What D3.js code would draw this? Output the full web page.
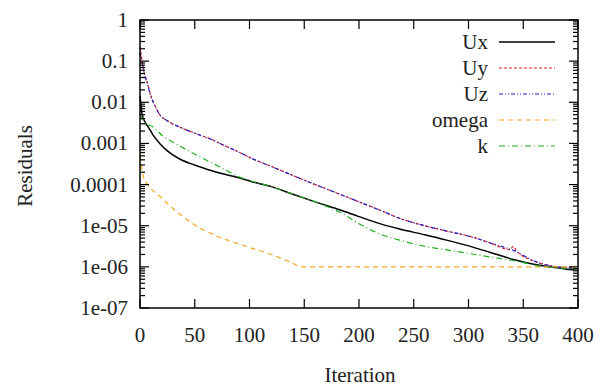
<!DOCTYPE html>
<html>
<head>
<meta charset="utf-8">
<script src="https://cdn.jsdelivr.net/npm/d3@7"></script>
<style>
  body { margin: 0; background: #fff; }
  text { font-family: "Liberation Serif", "DejaVu Serif", serif; fill: #222; }
</style>
</head>
<body>
<svg id="viz"></svg>
<script>
const svg = d3.select("#viz");

const W = 603, H = 388;
const plotL = 140, plotR = 578, plotT = 20, plotB = 308;

// data: iteration, log10 residual
const uxIter = [0, 2, 5, 8, 12, 18, 25, 35, 45, 56, 70, 91, 102, 120, 137, 160, 183, 200, 219, 237, 260, 280, 304, 320, 341, 362, 383, 395, 398, 400];
const uxLog  = [-1.85, -2.3, -2.5, -2.62, -2.8, -3.0, -3.18, -3.36, -3.48, -3.58, -3.7, -3.84, -3.93, -4.05, -4.21, -4.42, -4.62, -4.78, -4.95, -5.08, -5.22, -5.35, -5.52, -5.65, -5.82, -5.95, -6.03, -6.07, -6.04, -6.08];

const uyIter = [0, 2, 4, 6, 10, 14, 18, 25, 36, 45, 55, 65, 73, 91, 105, 120, 137, 160, 183, 200, 219, 237, 260, 280, 304, 320, 338, 341, 344, 362, 381, 390, 400];
const uyLog  = [-0.65, -1.0, -1.3, -1.46, -1.85, -2.1, -2.3, -2.45, -2.6, -2.7, -2.8, -2.9, -3.0, -3.22, -3.4, -3.56, -3.75, -4.0, -4.24, -4.42, -4.62, -4.82, -5.0, -5.13, -5.28, -5.42, -5.58, -5.5, -5.62, -5.88, -6.0, -6.02, -6.05];

const uzIter = [0, 2, 4, 6, 10, 14, 18, 25, 36, 45, 55, 65, 73, 91, 105, 120, 137, 160, 183, 200, 219, 237, 260, 280, 304, 320, 341, 362, 381, 390, 400];
const uzLog  = [-0.8, -1.05, -1.32, -1.48, -1.86, -2.1, -2.3, -2.45, -2.6, -2.7, -2.8, -2.9, -3.0, -3.22, -3.4, -3.56, -3.75, -4.0, -4.24, -4.42, -4.62, -4.82, -5.0, -5.13, -5.28, -5.42, -5.6, -5.88, -6.0, -6.02, -6.05];

const omIter = [0, 3, 7, 18, 30, 50, 70, 91, 100, 120, 137, 148, 200, 250, 300, 350, 400];
const omLog  = [-3.3, -3.8, -4.0, -4.28, -4.58, -4.98, -5.25, -5.45, -5.53, -5.7, -5.88, -6.0, -6.0, -6.0, -6.0, -6.0, -6.0];

const kIter = [0, 5, 12, 20, 35, 55, 75, 91, 102, 120, 137, 160, 175, 183, 200, 219, 237, 260, 283, 320, 347, 365, 385, 400];
const kLog  = [-2.3, -2.5, -2.6, -2.8, -3.04, -3.33, -3.6, -3.82, -3.92, -4.05, -4.21, -4.42, -4.58, -4.68, -4.95, -5.2, -5.35, -5.5, -5.6, -5.76, -5.88, -5.98, -6.03, -6.06];

const xTicks = [0, 50, 100, 150, 200, 250, 300, 350, 400];
const yTicks = [1, 0.1, 0.01, 0.001, 0.0001, 1e-5, 1e-6, 1e-7];
const yLabels = ["1", "0.1", "0.01", "0.001", "0.0001", "1e-05", "1e-06", "1e-07"];

const series = [
  { name: "Ux", iter: uxIter, vals: uxLog, color: "#000", dash: null, width: 1.5 },
  { name: "Uy", iter: uyIter, vals: uyLog, color: "#e02020", dash: "3,2", width: 1.2 },
  { name: "Uz", iter: uzIter, vals: uzLog, color: "#2020c8", dash: "4,2,1,2,1,2", width: 1.2 },
  { name: "omega", iter: omIter, vals: omLog, color: "#f5a623", dash: "5,4", width: 1.2 },
  { name: "k", iter: kIter, vals: kLog, color: "#22b022", dash: "6,3,1,3", width: 1.2 }
];

svg.attr("width", W).attr("height", H);

const x = d3.scaleLinear().domain([0, 400]).range([plotL, plotR]);
const y = d3.scaleLog().domain([1e-7, 1]).range([plotB, plotT]);

// series lines
const line = d3.line()
  .curve(d3.curveMonotoneX)
  .x(d => x(d[0]))
  .y(d => y(Math.pow(10, d[1])));
series.forEach(s => {
  svg.append("path")
    .datum(s.iter.map((it, i) => [it, s.vals[i]]))
    .attr("d", line)
    .attr("fill", "none")
    .attr("stroke", s.color)
    .attr("stroke-width", s.width)
    .attr("stroke-dasharray", s.dash);
});

// minor y ticks (2..9 in every decade)
const minor = [];
for (let e = -7; e < 0; e++) for (let m = 2; m <= 9; m++) minor.push(m * Math.pow(10, e));

const ax = svg.append("g").attr("stroke", "#000").attr("stroke-width", 1.2);
minor.forEach(v => {
  ax.append("line").attr("x1", plotL).attr("x2", plotL + 5).attr("y1", y(v)).attr("y2", y(v));
  ax.append("line").attr("x1", plotR).attr("x2", plotR - 5).attr("y1", y(v)).attr("y2", y(v));
});
yTicks.forEach(v => {
  ax.append("line").attr("x1", plotL).attr("x2", plotL + 9).attr("y1", y(v)).attr("y2", y(v));
  ax.append("line").attr("x1", plotR).attr("x2", plotR - 9).attr("y1", y(v)).attr("y2", y(v));
});
xTicks.forEach(v => {
  ax.append("line").attr("x1", x(v)).attr("x2", x(v)).attr("y1", plotB).attr("y2", plotB - 9);
  ax.append("line").attr("x1", x(v)).attr("x2", x(v)).attr("y1", plotT).attr("y2", plotT + 9);
});

// frame
svg.append("rect")
  .attr("x", plotL).attr("y", plotT)
  .attr("width", plotR - plotL).attr("height", plotB - plotT)
  .attr("fill", "none").attr("stroke", "#000").attr("stroke-width", 1.5);

// tick labels
svg.selectAll(".ylab").data(yTicks).enter().append("text")
  .attr("x", plotL - 12).attr("y", d => y(d) + 7)
  .attr("text-anchor", "end").attr("font-size", 21)
  .text((d, i) => yLabels[i]);

svg.selectAll(".xlab").data(xTicks).enter().append("text")
  .attr("x", d => x(d)).attr("y", 342)
  .attr("text-anchor", "middle").attr("font-size", 21)
  .text(d => d);

// axis titles
svg.append("text")
  .attr("transform", "translate(32,166) rotate(-90)")
  .attr("text-anchor", "middle").attr("font-size", 21)
  .text("Residuals");

svg.append("text")
  .attr("x", 360).attr("y", 382)
  .attr("text-anchor", "middle").attr("font-size", 21)
  .text("Iteration");

// legend
const legY = [42, 68, 94, 120, 146];
series.forEach((s, i) => {
  svg.append("text")
    .attr("x", 488).attr("y", legY[i] + 7)
    .attr("text-anchor", "end").attr("font-size", 21)
    .text(s.name);
  svg.append("line")
    .attr("x1", 499).attr("x2", 555)
    .attr("y1", legY[i]).attr("y2", legY[i])
    .attr("stroke", s.color)
    .attr("stroke-width", s.width)
    .attr("stroke-dasharray", s.dash);
});
</script>
</body>
</html>
